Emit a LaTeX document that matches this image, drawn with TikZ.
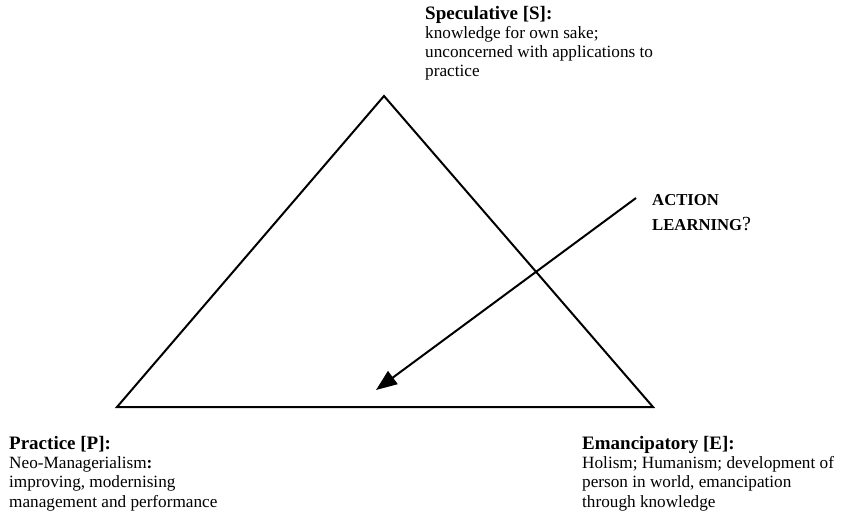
\documentclass[tikz,border=0pt]{standalone}
\usepackage{fontspec}
\setmainfont{Liberation Serif}
\usetikzlibrary{arrows.meta}
\begin{document}
\begin{tikzpicture}[x=1pt,y=-1pt,
  side/.style={line width=2pt,line join=miter},
  pointer/.style={line width=2pt,-{Triangle[length=21pt,width=16pt]}},
  caption/.style={anchor=base west,inner sep=0pt,align=left,
    font=\fontsize{17.2}{19.1}\selectfont},
  ]
\useasboundingbox (0,0) rectangle (841,519);

% corners of the triangle
\coordinate (S) at (384,96);
\coordinate (P) at (117,407);
\coordinate (E) at (653,407);
\draw[side] (S) -- (P) -- (E) -- cycle;

% the arrow pointing into the triangle
\coordinate (from) at (636,198);
\coordinate (to) at (376,390);
\draw[pointer] (from) -- (to);

% labels of the three corners (placed by the baseline of their last line)
\node[caption] (speculative) at (425,77)
  {{\fontsize{19}{19.1}\selectfont\bfseries Speculative [S]:}\\
   knowledge for own sake;\\
   unconcerned with applications to\\
   practice};
\node[caption] (practice) at (9,507)
  {{\fontsize{19}{19.1}\selectfont\bfseries Practice [P]:}\\
   Neo-Managerialism{\bfseries :}\\
   improving, modernising\\
   management and performance};
\node[caption] (emancipatory) at (582,507)
  {{\fontsize{19}{19.1}\selectfont\bfseries Emancipatory [E]:}\\
   Holism; Humanism; development of\\
   person in world, emancipation\\
   through knowledge};

% label of the arrow
\node[anchor=base west,inner sep=0pt,align=left,
      font=\fontsize{16.7}{25}\selectfont\bfseries] (action) at (652,230)
  {ACTION\\ LEARNING{\mdseries\fontsize{20}{25}\selectfont ?}};
\end{tikzpicture}
\end{document}
